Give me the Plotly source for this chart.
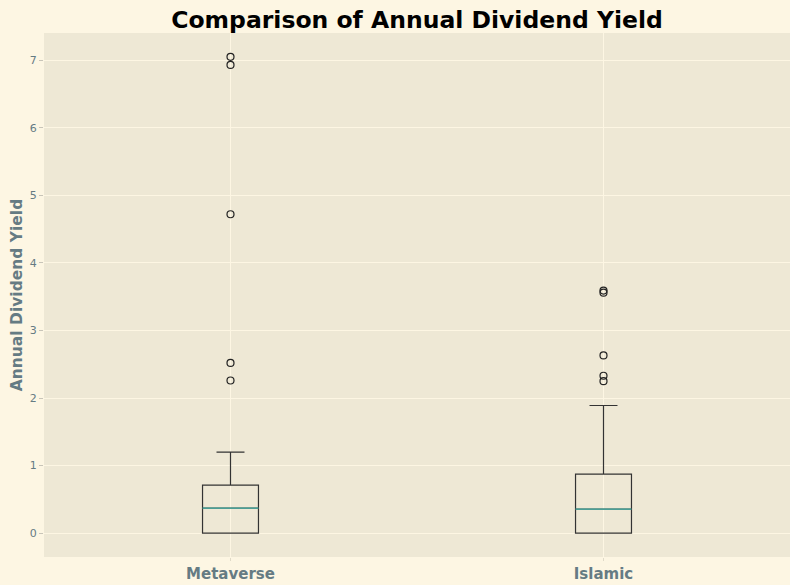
import plotly.graph_objects as go

categories = ["Metaverse", "Islamic"]
positions = [1, 2]
q1 = [0.0, 0.0]
median = [0.37, 0.355]
q3 = [0.71, 0.875]
lower = [0.0, 0.0]
upper = [1.20, 1.89]
outliers_metaverse = [7.05, 6.93, 4.72, 2.52, 2.26]
outliers_islamic = [3.59, 3.56, 2.63, 2.33, 2.25]
outliers = [outliers_metaverse, outliers_islamic]
y_ticks = [0, 1, 2, 3, 4, 5, 6, 7]

box_w = 0.15
fig = go.Figure()
for i, cat in enumerate(categories):
    fig.add_trace(go.Box(
        x=[positions[i]], q1=[q1[i]], median=[median[i]], q3=[q3[i]],
        lowerfence=[lower[i]], upperfence=[upper[i]],
        width=box_w, whiskerwidth=0.5, boxpoints=False,
        fillcolor="rgba(0,0,0,0)", line=dict(color="#333333", width=1.2),
        name=cat, showlegend=False, hoverinfo="skip",
    ))
    fig.add_trace(go.Scatter(
        x=[positions[i] - box_w / 2, positions[i] + box_w / 2],
        y=[median[i], median[i]], mode="lines",
        line=dict(color="#45b3a8", width=1.3), showlegend=False, hoverinfo="skip",
    ))
    fig.add_trace(go.Scatter(
        x=[positions[i]] * len(outliers[i]), y=outliers[i], mode="markers",
        marker=dict(symbol="circle-open", size=7, color="#222222", line=dict(width=1.2)),
        showlegend=False, hoverinfo="skip",
    ))

fig.update_layout(
    width=790, height=585,
    paper_bgcolor="#FDF6E3", plot_bgcolor="#EEE8D5",
    margin=dict(l=44, r=0, t=33, b=28),
    font=dict(family="DejaVu Sans", color="#657b83"),
    title=dict(text="<b>Comparison of Annual Dividend Yield</b>", x=0.5, xanchor="center", xref="paper",
               y=1 - 20 / 585, yref="container", yanchor="middle",
               font=dict(size=23.5, color="#000000", family="DejaVu Sans")),
    xaxis=dict(range=[0.5, 2.5], tickvals=positions,
               ticktext=["<b>%s</b>" % c for c in categories],
               tickfont=dict(size=15, color="#657b83"),
               showgrid=True, gridcolor="#FDF6E3", gridwidth=1,
               zeroline=False, ticks="outside", ticklen=3, tickcolor="#e0dac8",
               showline=False),
    yaxis=dict(range=[-0.3525, 7.4025], tickvals=y_ticks,
               tickfont=dict(size=11, color="#657b83"),
               showgrid=True, gridcolor="#FDF6E3", gridwidth=1,
               zeroline=False, ticks="outside", ticklen=4, tickcolor="#c8c4b8",
               title=dict(text="<b>Annual Dividend Yield</b>", font=dict(size=15.5, color="#657b83"), standoff=3),
               showline=False),
)
fig.write_html("out.html", config={"displayModeBar": False},
               post_script="document.body.style.margin='0';document.body.style.overflow='hidden';")
